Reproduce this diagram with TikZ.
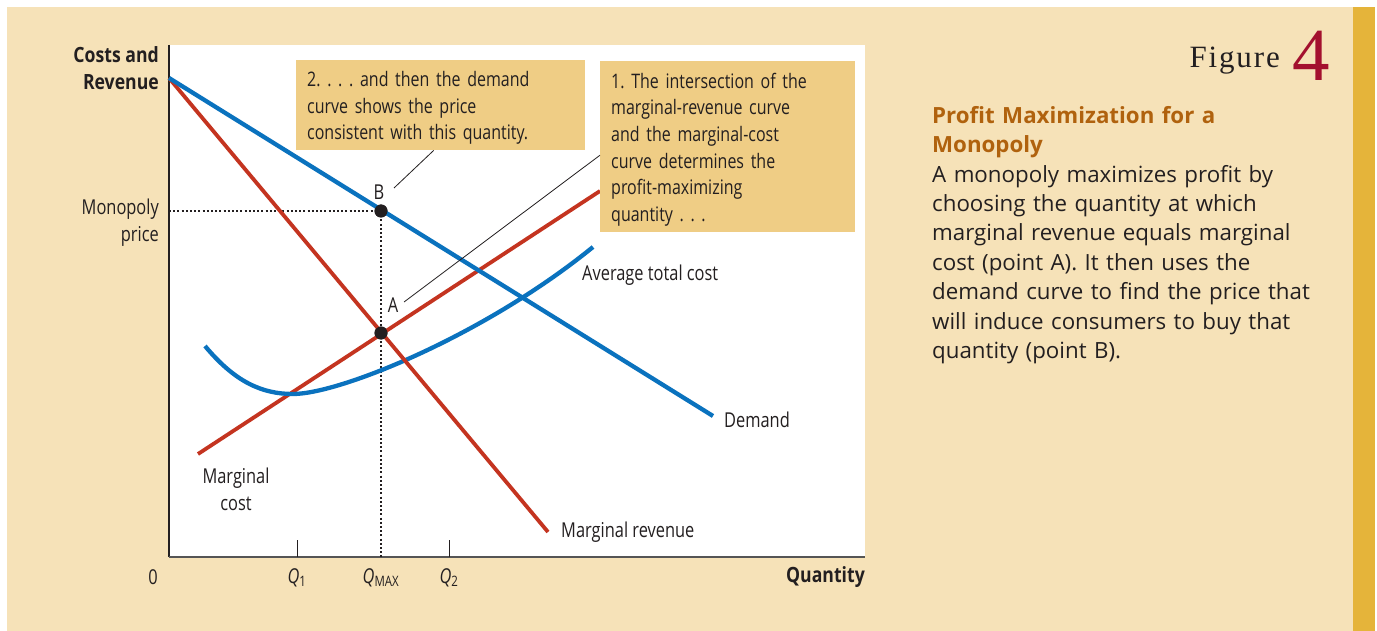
\documentclass[tikz,border=0pt]{standalone}
\usepackage{fontspec}
\setmainfont{Open Sans}
\newfontfamily\condfont[FakeStretch=0.8]{Open Sans}
\newfontfamily\condboldfont[FakeStretch=0.84]{Open Sans}
\newfontfamily\figfont[LetterSpace=6]{Liberation Serif}
\newfontfamily\bignum{Liberation Serif}
\usetikzlibrary{calc}
\frenchspacing
\definecolor{panelbeige}{RGB}{246,226,184}
\definecolor{notegold}{RGB}{239,205,133}
\definecolor{curvered}{RGB}{196,52,32}
\definecolor{curveblue}{RGB}{10,114,190}
\definecolor{sidebargold}{RGB}{229,180,58}
\definecolor{titlebrown}{RGB}{176,98,14}
\definecolor{figred}{RGB}{163,16,46}
\definecolor{inkgrey}{RGB}{35,31,32}
\definecolor{axisgrey}{RGB}{85,85,85}
\tikzset{
  lbl/.style={font=\condfont\fontsize{20.5}{27}\selectfont, text=inkgrey, inner sep=0pt},
  axlbl/.style={lbl, font=\condboldfont\bfseries\fontsize{21}{27}\selectfont},
  note/.style={lbl, font=\condfont\fontsize{20}{26.7}\selectfont, rectangle, fill=notegold, align=left, anchor=north west, inner xsep=11pt, execute at begin node=\rule{0pt}{21pt}},
  mrline/.style={draw=curvered, line width=3.8pt},
  dline/.style={draw=curveblue, line width=4.3pt},
  axisline/.style={draw=axisgrey, line width=1.8pt},
  guide/.style={draw=inkgrey, line width=2pt, dash pattern=on 2pt off 2.2pt},
  leader/.style={draw=inkgrey, line width=0.8pt},
  dot/.style={circle, fill=inkgrey, inner sep=0pt, minimum size=13pt},
  sidetext/.style={font=\fontsize{22.3}{29.4}\selectfont, text=inkgrey, align=left, anchor=north west, inner sep=0pt, text width=420pt},
}
\begin{document}
\begin{tikzpicture}[x=1pt,y=-1pt]
  \useasboundingbox (0,0) rectangle (1377,631);
  \fill[white] (0,0) rectangle (1377,631);
  \fill[panelbeige] (7,7) rectangle (1353,631);
  \fill[sidebargold] (1353,7) rectangle (1375,631);
  \fill[white] (169,45) rectangle (865,557);
  % axes
  \coordinate (orig) at (169,557);
  \coordinate (ytop) at (169,45);
  \coordinate (xend) at (865,557);
  \draw[axisline,draw=inkgrey,line width=1.4pt] (ytop) -- (orig);
  \draw[axisline] (orig) -- (xend);
  \coordinate (qone) at (297,557);
  \coordinate (qmax) at (381,557);
  \coordinate (qtwo) at (449,557);
  \draw[axisline,line width=1pt,draw=inkgrey] (qone) -- ++(0,-17);
  \draw[axisline,line width=1pt,draw=inkgrey] (qtwo) -- ++(0,-17);
  % curves
  \coordinate (start) at (169,78);
  \coordinate (mrend) at (548,532);
  \coordinate (dend) at (713,416);
  \coordinate (mcstart) at (198,454);
  \coordinate (mcend) at (600,191);
  \coordinate (atcstart) at (205,346);
  \coordinate (atcmin) at (293,394);
  \coordinate (atcend) at (593,247);
  \node[dot] (ptB) at (381,211) {};
  \node[dot] (ptA) at (381,333) {};
  \coordinate (pricey) at (169,211);
  \draw[guide] (pricey) -- (ptB.center);
  \draw[guide] (ptB.center) -- (qmax);
  \draw[mrline] (mcstart) -- (mcend);
  \draw[dline] (atcstart) .. controls (235,382) and (262,394) .. (atcmin)
    .. controls (340,394) and (485,335) .. (atcend);
  \draw[mrline] (start) -- (mrend);
  \draw[dline] (start) -- (dend);
  \node[dot] at (ptB) {};
  \node[dot] at (ptA) {};
  % labels
  \node[axlbl,align=right,anchor=east] (yname) at (159,68) {Costs and\\Revenue};
  \node[lbl,align=right,anchor=east] (pricename) at (159,223) {Monopoly\\price};
  \node[lbl] (zero) at (153,577) {0};
  \node[lbl] (qonelbl) at (297,578) {\itshape Q\textsubscript{\upshape 1}};
  \node[lbl] (qmaxlbl) at (381,578) {\itshape Q\textsubscript{\upshape MAX}};
  \node[lbl] (qtwolbl) at (449,578) {\itshape Q\textsubscript{\upshape 2}};
  \node[axlbl,anchor=east] (xname) at (865,577) {Quantity};
  \node[lbl,align=center] (mclbl) at (236,489) {Marginal\\cost};
  \node[lbl,anchor=west] (mrlbl) at (561,532) {Marginal revenue};
  \node[lbl,anchor=west] (dlbl) at (724,420) {Demand};
  \node[lbl,anchor=west] (atclbl) at (582,275) {Average total cost};
  \node[lbl] (Blbl) at (379,192) {B};
  \node[lbl] (Albl) at (393,305) {A};
  % notes
  \node[note,minimum width=289pt,minimum height=90pt,text width=267pt] (noteprice) at (296,60)
    {2. . . . and then the demand\\curve shows the price\\consistent with this quantity.};
  \node[note,minimum width=255pt,minimum height=171pt,text width=233pt] (noteqty) at (600,61)
    {1. The intersection of the\\marginal-revenue curve\\and the marginal-cost\\curve determines the\\profit-maximizing\\quantity . . .};
  \coordinate (Bend) at (394,188);
  \coordinate (Aend) at (404,302);
  \draw[leader] ([xshift=-7pt]noteprice.south) -- (Bend);
  \draw[leader] ([yshift=-8.5pt]noteqty.west) -- (Aend);
  % side panel
  \node[font=\figfont\fontsize{31}{31}\selectfont,text=inkgrey,anchor=base east,inner sep=0pt] (figword) at (1280,68) {Figure};
  \node[font=\bignum\fontsize{75}{75}\selectfont,text=figred,anchor=base west,inner sep=0pt] (fignum) at (1292,81) {4};
  \node[sidetext] (caption) at (932,106)
    {\textcolor{titlebrown}{\bfseries Profit Maximization for a\\Monopoly}\\
     A monopoly maximizes profit by\\choosing the quantity at which\\marginal revenue equals marginal\\cost (point A). It then uses the\\demand curve to find the price that\\will induce consumers to buy that\\quantity (point B).};
\end{tikzpicture}
\end{document}
